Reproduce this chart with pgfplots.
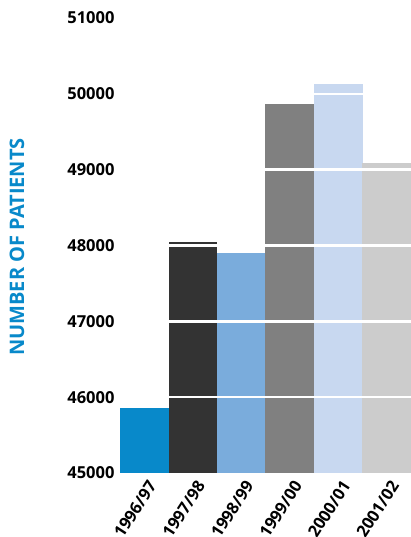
\documentclass[border=0pt]{standalone}
\usepackage{pgfplots}
\pgfplotsset{compat=1.18}
\usepackage{fontspec}
\setmainfont{Open Sans}
\definecolor{c1}{HTML}{0889CA}
\definecolor{c2}{HTML}{333333}
\definecolor{c3}{HTML}{7AACDC}
\definecolor{c4}{HTML}{808080}
\definecolor{c5}{HTML}{C8D8F0}
\definecolor{c6}{HTML}{CCCCCC}
\begin{document}
\begin{tikzpicture}
\begin{axis}[
  at={(120pt,64pt)}, anchor=south west,
  scale only axis, width=291pt, height=455pt,
  ymin=45000, ymax=51000, xmin=-0.5, xmax=5.5,
  axis line style={draw=none},
  ytick={45000,46000,...,51000},
  scaled y ticks=false,
  extra y ticks={46000,47000,48000,49000,50000},
  extra y tick labels={},
  extra y tick style={grid=major, major grid style={white, line width=2.5pt}},
  major tick length=0pt,
  axis on top,
  xtick={0,...,5},
  xticklabels={1996/97,1997/98,1998/99,1999/00,2000/01,2001/02},
  /pgf/number format/assume math mode=true,
  /pgf/number format/set thousands separator={},
  yticklabel style={font=\bfseries\fontsize{16.5}{18}\selectfont, xshift=-2pt},
  xticklabel style={font=\bfseries\fontsize{16.5}{18}\selectfont, rotate=57, anchor=east, yshift=-12pt, xshift=0pt},
  ybar, bar width=48.5pt, bar shift=0pt,
  every axis plot/.append style={draw=none},
]
\addplot[fill=c1] coordinates {(0,45856)};
\addplot[fill=c2] coordinates {(1,48047)};
\addplot[fill=c3] coordinates {(2,47902)};
\addplot[fill=c4] coordinates {(3,49864)};
\addplot[fill=c5] coordinates {(4,50128)};
\addplot[fill=c6] coordinates {(5,49083)};
\end{axis}
\node[rotate=90, text=c1, font=\bfseries\fontsize{20}{22}\selectfont] at (17pt,290pt) {NUMBER OF PATIENTS};
\pgfresetboundingbox
\useasboundingbox (0,0) rectangle (411pt,537pt);
\end{tikzpicture}
\end{document}
